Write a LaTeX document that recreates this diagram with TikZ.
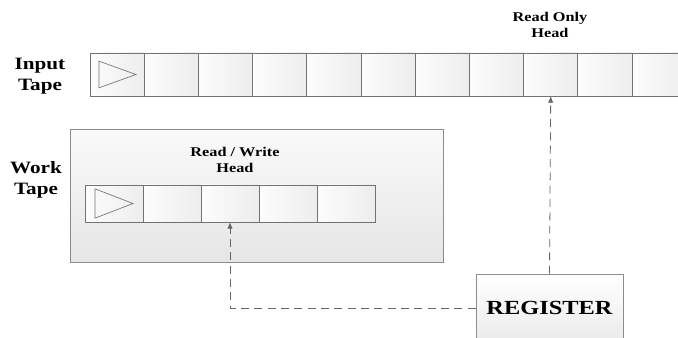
\documentclass[tikz,border=0pt]{standalone}
\usepackage{fontspec}
\setmainfont{Liberation Serif}
\newfontfamily\lblfont[FakeStretch=1.22]{Liberation Serif}
\usepackage{tikz}
\usetikzlibrary{arrows.meta}

\begin{document}
\begin{tikzpicture}[
  x=0.75pt,y=-0.75pt,
  cell/.style={draw=black!55, line width=0.5pt, inner sep=0pt, outer sep=0pt, minimum height=32.25pt, left color=black!1, right color=black!7},
  wcell/.style={cell, minimum width=43.5pt, minimum height=27.75pt},
  icell/.style={cell, minimum width=40.65pt},
  lbl/.style={font=\lblfont\bfseries\fontsize{13}{16}\selectfont, align=center},
  hdlbl/.style={font=\lblfont\bfseries\fontsize{10}{12}\selectfont, align=center},
  link/.style={draw=black!60, line width=0.6pt, dash pattern=on 6pt off 4pt, -{Latex[length=5pt,width=4pt]}}]
\useasboundingbox (0,0) rectangle (678,338);
% work tape panel
\node[draw=black!45, line width=0.5pt, top color=black!2, bottom color=black!10, minimum width=279.75pt, minimum height=99.75pt, inner sep=0pt] (wbox) at (256.5,195.5) {};
% input tape cells
\foreach \i in {1,...,11}
  \node[icell] (in\i) at ({90+54.2*(\i-1)+27.1},74.5) {};
% work tape cells
\foreach \j in {1,...,5}
  \node[wcell] (wk\j) at ({85+58*(\j-1)+29},203.5) {};
% end markers
\draw[black!55, line width=0.5pt] ([xshift=6.75pt,yshift=10pt]in1.west) -- ([xshift=34.5pt]in1.west) -- ([xshift=6.75pt,yshift=-10pt]in1.west) -- cycle;
\draw[black!55, line width=0.5pt] ([xshift=7.5pt,yshift=11pt]wk1.west) -- ([xshift=36pt]wk1.west) -- ([xshift=7.5pt,yshift=-11pt]wk1.west) -- cycle;
% labels
\node[lbl] (inlbl) at (40,76) {Input\\Tape};
\node[lbl] (wklbl) at (36,180) {Work\\Tape};
\node[hdlbl] (rohd) at (550,25) {Read Only\\Head};
\node[hdlbl] (rwhd) at (235,160) {Read / Write\\Head};
% register
\node[draw=black!45, line width=0.5pt, top color=white, bottom color=black!8, minimum width=110.25pt, minimum height=51pt, font=\lblfont\bfseries\fontsize{15}{18}\selectfont] (reg) at (549.5,308) {REGISTER};
% head links
\draw[link] (reg.north) -- (in9.south);
\draw[link] (reg.west) -| (wk3.south);
\end{tikzpicture}
\end{document}
